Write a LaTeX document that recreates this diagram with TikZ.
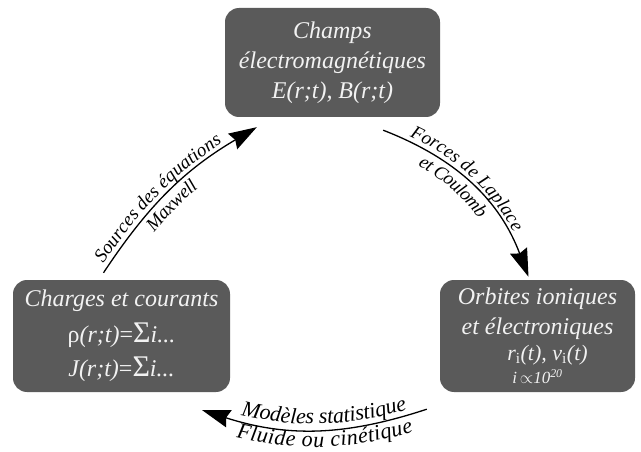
\documentclass[tikz,border=0pt]{standalone}
\usepackage{fontspec}
\setmainfont{Liberation Serif}
\usetikzlibrary{arrows.meta,decorations.text}
\definecolor{boxgray}{RGB}{90,90,90}
\definecolor{boxtext}{RGB}{242,242,242}
\newcommand\arcfont{\fontsize{19}{22}\selectfont\itshape}
\newcommand\arcfontbig{\fontsize{22}{25}\selectfont\itshape}
\tikzset{
  arclabel/.style n args={4}{postaction={decorate,decoration={text along path,
      text align={center,#4},raise=#1,text={|#2|#3}}}}
}

\begin{document}
\begin{tikzpicture}[x=1pt,y=1pt]

        \useasboundingbox (0,0) rectangle (641,451);

        \begin{scope}[every node/.style={rectangle,rounded corners=14pt,fill=boxgray,text=boxtext,
            align=center,inner sep=0pt,font=\fontsize{24}{30}\selectfont\itshape}]
          \node[minimum width=215pt,minimum height=109pt] (champs)  at (332.5,388.5)
            {Champs\\électromagnétiques\\E(r;t), B(r;t)};
          \node[minimum width=217pt,minimum height=112pt] (charges) at (121.5,115)
            {Charges et courants\\[6pt]
             {\upshape ρ}(r;t){\upshape =}{\fontsize{30}{30}\selectfont\upshape Σ}i...\\[4pt]
             J(r;t){\upshape =}{\fontsize{30}{30}\selectfont\upshape Σ}i...};
          \node[minimum width=195pt,minimum height=112pt] (orbites) at (537.5,115)
            {Orbites ioniques\\et électroniques\\[-4pt]
             {\fontsize{22}{24}\selectfont\hspace*{20pt}r\textsubscript{\upshape i}(t), v\textsubscript{\upshape i}(t)}\\[-7pt]
             {\fontsize{17}{18}\selectfont i\,$\propto$10\textsuperscript{20}}};
        \end{scope}

        \begin{scope}[every edge/.style={draw,line width=1.3pt,
            -{Stealth[length=28pt,width=18pt,inset=3pt]}}]
          \path ([xshift=-18pt,yshift=7pt]charges.north) edge[bend left=13]
                ([xshift=32pt,yshift=-10pt]champs.south west);
          \path ([xshift=-57pt,yshift=-13pt]champs.south east) edge[bend left=24]
                ([xshift=-9pt,yshift=3pt]orbites.north);
          \path ([xshift=-13pt,yshift=-17pt]orbites.south west) edge[bend left=18]
                ([xshift=-28pt,yshift=-18pt]charges.south east);
        \end{scope}

        % labels along the arrows
        \path[arclabel={5pt}{\arcfont}{Sources des équations}{right indent=30pt},
              arclabel={-17pt}{\arcfont}{Maxwell}{right indent=20pt}]
              ([xshift=-18pt,yshift=7pt]charges.north) to[bend left=13]
              ([xshift=32pt,yshift=-10pt]champs.south west);
        \path[arclabel={5pt}{\arcfont}{Forces de Laplace}{right indent=20pt},
              arclabel={-17pt}{\arcfont}{et Coulomb}{right indent=30pt}]
              ([xshift=-57pt,yshift=-13pt]champs.south east) to[bend left=24]
              ([xshift=-9pt,yshift=3pt]orbites.north);
        \path[arclabel={5pt}{\arcfontbig}{Modèles statistique}{left indent=20pt},
              arclabel={-18pt}{\arcfontbig}{Fluide ou cinétique}{left indent=20pt}]
              ([xshift=-28pt,yshift=-18pt]charges.south east) to[bend right=17]
              ([xshift=-13pt,yshift=-17pt]orbites.south west);

      \end{tikzpicture}
\end{document}
